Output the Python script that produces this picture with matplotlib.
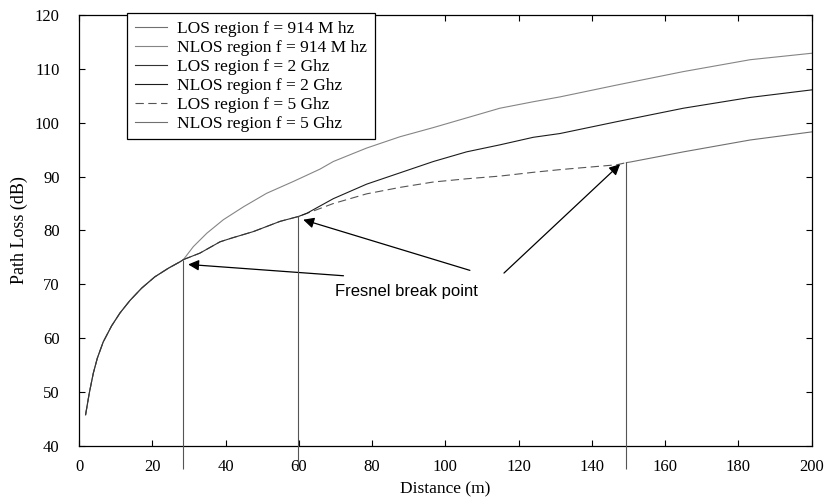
import matplotlib
matplotlib.use('Agg')
import matplotlib.pyplot as plt

# path loss readings, distance in m and loss in dB
# shared LOS part up to the 914 MHz break point
d_common = [1.8, 2.8, 3.9, 5.0, 6.6, 8.9, 11.2, 13.9, 17.1, 20.7, 24.4, 27.6, 28.5]
pl_common = [45.8, 49.8, 53.5, 56.3, 59.3, 62.3, 64.7, 67.0, 69.3, 71.4, 73.0, 74.2, 74.6]

# 914 MHz past its break point
d_nlos_914 = [28.5, 31.2, 34.9, 39.4, 44.9, 51.2, 58.5, 65.8, 69.4, 78.5, 87.6, 96.7,
              105.8, 114.9, 124.0, 131.3, 146.8, 165.0, 183.2, 200.0]
pl_nlos_914 = [74.6, 77.0, 79.5, 82.0, 84.4, 86.9, 89.1, 91.4, 92.8, 95.3, 97.4, 99.1,
               100.9, 102.7, 103.9, 104.8, 107.0, 109.5, 111.7, 112.9]

# 2 GHz LOS between the two first break points
d_los_2g = [28.5, 33.0, 38.5, 41.7, 47.6, 54.9, 59.9]
pl_los_2g = [74.6, 75.8, 77.9, 78.6, 79.8, 81.7, 82.6]

# 2 GHz past its break point
d_nlos_2g = [59.9, 62.2, 69.4, 78.5, 87.6, 96.7, 105.8, 114.9, 124.0, 131.3,
             146.8, 165.0, 183.2, 200.0]
pl_nlos_2g = [82.6, 83.2, 85.9, 88.6, 90.7, 92.8, 94.6, 95.9, 97.3, 98.0,
              100.2, 102.7, 104.7, 106.1]

# 5 GHz LOS up to its break point
d_los_5g = [59.9, 63.1, 69.4, 78.5, 87.6, 96.7, 105.8, 114.9, 124.0, 131.3, 146.8, 149.4]
pl_los_5g = [82.6, 83.4, 85.0, 86.8, 88.0, 89.0, 89.6, 90.1, 90.8, 91.3, 92.2, 92.6]

# 5 GHz past its break point
d_nlos_5g = [149.4, 150.4, 165.0, 183.2, 200.0]
pl_nlos_5g = [92.6, 92.7, 94.6, 96.8, 98.3]

# Fresnel break points
bp_dist = [28.5, 59.9, 149.4]
bp_loss = [74.6, 82.6, 92.8]

labels = ['LOS region f = 914 M hz', 'NLOS region f = 914 M hz',
          'LOS region f = 2 Ghz', 'NLOS region f = 2 Ghz',
          'LOS region f = 5 Ghz', 'NLOS region f = 5 Ghz']

plt.rcParams['font.family'] = ['Liberation Serif', 'DejaVu Serif']
plt.rcParams['font.size'] = 12

fig = plt.figure(figsize=(8.26, 4.98), dpi=100)
ax = fig.add_axes([79 / 826, 1 - 446 / 498, 732.7 / 826, 431 / 498])

gray = '#707070'
dark = '#1c1c1c'
lw = 0.8

# LOS curves include everything before their own break point
los_914 = (d_common, pl_common)
los_2g = (d_common + d_los_2g[1:], pl_common + pl_los_2g[1:])
los_5g = (d_common + d_los_2g[1:] + d_los_5g[1:], pl_common + pl_los_2g[1:] + pl_los_5g[1:])

h5, = ax.plot(*los_5g, color='#555555', lw=lw, dashes=(7.5, 4), zorder=1)
h1, = ax.plot(*los_914, color=gray, lw=lw, zorder=2)
h3, = ax.plot(*los_2g, color='#333333', lw=lw, zorder=3)
h2, = ax.plot(d_nlos_914, pl_nlos_914, color='#858585', lw=lw, zorder=2)
h4, = ax.plot(d_nlos_2g, pl_nlos_2g, color=dark, lw=lw, zorder=2)
h6, = ax.plot(d_nlos_5g, pl_nlos_5g, color=gray, lw=lw, zorder=2)

# break point markers run below the axis
vl = ax.vlines(bp_dist, 35.8, bp_loss, color='#555555', lw=lw, zorder=4)
vl.set_clip_on(False)

# arrows from the caption to each break point
text_pos = (89.5, 68.6)
tails = [(72.2, 71.6), (106.7, 72.6), (116.0, 72.1)]
tip_shift = [(1.3, -0.9), (1.3, -0.6), (-1.7, -0.5)]
for (bx, by), (tx, ty), (sx, sy) in zip(zip(bp_dist, bp_loss), tails, tip_shift):
    ax.annotate('', xy=(bx + sx, by + sy), xytext=(tx, ty),
                arrowprops=dict(arrowstyle='-|>', color='k', lw=0.9,
                                mutation_scale=16, shrinkA=0, shrinkB=0))
ax.text(*text_pos, 'Fresnel break point', family=['Liberation Sans', 'DejaVu Sans'],
        fontsize=12, ha='center', va='center')

ax.set_xlim(0, 200)
ax.set_ylim(40, 120)
ax.set_xticks(range(0, 201, 20))
ax.set_yticks(range(40, 121, 10))
ax.tick_params(direction='in', length=4, width=0.8, top=True, right=True, labelsize=12)
ax.tick_params(axis='x', pad=9)
ax.tick_params(axis='y', pad=14)
for s in ax.spines.values():
    s.set_linewidth(0.9)
ax.set_xlabel('Distance (m)', fontsize=12.5, labelpad=5)
ax.set_ylabel('Path Loss (dB)', fontsize=13, labelpad=5)

leg = ax.legend([h1, h2, h3, h4, h5, h6], labels, loc='upper left',
                bbox_to_anchor=(127 / 826, 1 - 13 / 498), bbox_transform=fig.transFigure,
                borderaxespad=0, fancybox=False, framealpha=1, edgecolor='k',
                fontsize=12.5, handlelength=1.85, handletextpad=0.6, labelspacing=0.16,
                borderpad=0.45)
leg.get_frame().set_linewidth(0.9)

fig.savefig('out.png', dpi=100)
